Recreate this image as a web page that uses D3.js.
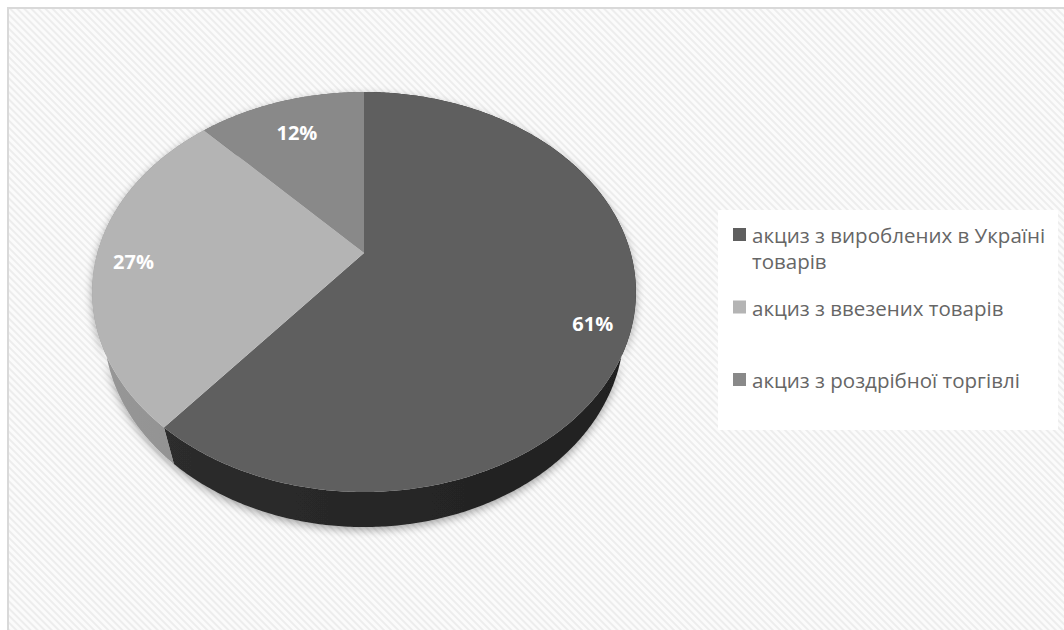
<!DOCTYPE html>
<html><head><meta charset="utf-8">
<script src="https://cdn.jsdelivr.net/npm/d3@7"></script>
<style>html,body{margin:0;padding:0;background:#fff;overflow:hidden}</style>
</head><body><svg id="c" width="1064" height="630"></svg>
<script>
// ---- data ----
const categories = ["акциз з вироблених в Україні товарів", "акциз з ввезених товарів", "акциз з роздрібної торгівлі"];
const values = [61, 27, 12];
const valueLabels = ["61%", "27%", "12%"];

// ---- style ----
const topColors = ["#5f5f5f", "#b4b4b4", "#898989"];
const wallLeft  = ["#2f2f2f", "#979797", "#707070"];
const wallRight = ["#1f1f1f", "#7e7e7e", "#606060"];

const svg = d3.select("#c");
const defs = svg.append("defs");

// hatched background
const pat = defs.append("pattern").attr("id","hatch").attr("patternUnits","userSpaceOnUse")
  .attr("width",5).attr("height",5).attr("patternTransform","rotate(-45)");
pat.append("rect").attr("width",5).attr("height",5).attr("fill","#fbfbfb");
pat.append("rect").attr("width",2).attr("height",5).attr("fill","#ededed");

svg.append("rect").attr("x",8).attr("y",8).attr("width",1070).attr("height",640)
  .attr("fill","url(#hatch)").attr("stroke","#d9d9d9").attr("stroke-width",2);

// shadow filter
const f = defs.append("filter").attr("id","sh").attr("x","-20%").attr("y","-20%").attr("width","140%").attr("height","160%");
f.append("feDropShadow").attr("dx",0).attr("dy",3).attr("stdDeviation",4).attr("flood-color","#000").attr("flood-opacity",0.35);

// perspective projection of the 3D pie
const cx = 364, cy = 253;
const K = 946.7, D = 3.55, sA = 0.7215, cA = 0.692, thick = 0.219;
function proj(theta, r, h) {
  const X = r*Math.sin(theta), G = r*Math.cos(theta);
  const depth = D + G*cA - h*sA;
  return [cx + K*X/depth, cy - K*(G*sA + h*cA)/depth];
}
const xExt = [92, 636];

const pie = d3.pie().sort(null).value(d => d);
const arcs = pie(values);

function arcPts(a0, a1, h) {
  const n = Math.max(4, Math.ceil(Math.abs(a1-a0)/0.01));
  return d3.range(n+1).map(i => proj(a0 + (a1-a0)*i/n, 1, h));
}
const line = d3.line();

// wall gradients
arcs.forEach((a,i) => {
  const g = defs.append("linearGradient").attr("id","wg"+i).attr("gradientUnits","userSpaceOnUse")
    .attr("x1",xExt[0]).attr("x2",xExt[1]).attr("y1",0).attr("y2",0);
  g.append("stop").attr("offset",0).attr("stop-color",wallLeft[i]);
  g.append("stop").attr("offset",1).attr("stop-color",wallRight[i]);
});

const pieG = svg.append("g");
const walls = pieG.append("g").attr("filter","url(#sh)");
arcs.forEach((a,i) => {
  const pts = arcPts(a.startAngle, a.endAngle, 0).concat(arcPts(a.endAngle, a.startAngle, -thick));
  walls.append("path").attr("d", line(pts)+"Z").attr("fill","url(#wg"+i+")");
});
arcs.forEach((a,i) => {
  const pts = [[cx,cy]].concat(arcPts(a.startAngle, a.endAngle, 0));
  pieG.append("path").attr("d", line(pts)+"Z").attr("fill",topColors[i]);
});

// data labels
const labelR = [0.86, 0.86, 0.78];
const labelDy = [12, 4, 2];
arcs.forEach((a,i) => {
  const m = (a.startAngle + a.endAngle)/2;
  const p = proj(m, labelR[i], 0);
  svg.append("text").attr("x",p[0]).attr("y",p[1]+labelDy[i]).attr("dy","0.35em")
    .attr("text-anchor","middle").attr("font-family","'Open Sans', sans-serif")
    .attr("font-weight","bold").attr("font-size",20).attr("fill","#fff").text(valueLabels[i]);
});

// legend
const leg = svg.append("g");
leg.append("rect").attr("x",718).attr("y",210).attr("width",340).attr("height",220).attr("fill","#fff");
const legY = d3.scalePoint().domain(d3.range(categories.length)).range([243, 388]);
categories.forEach((c,i) => {
  const y = legY(i);
  leg.append("rect").attr("x",733).attr("y",y-15).attr("width",13).attr("height",13).attr("fill",topColors[i]);
  const t = leg.append("text").attr("x",752).attr("y",y).attr("font-family","'Open Sans', sans-serif")
    .attr("font-size",20.5).attr("fill","#666");
  // wrap
  const words = c.split(" ");
  let lineWords = [];
  let ts = t.append("tspan").attr("x",752).attr("dy",0);
  words.forEach(w => {
    lineWords.push(w);
    ts.text(lineWords.join(" "));
    if (ts.node().getComputedTextLength() > 300 && lineWords.length > 1) {
      lineWords.pop();
      ts.text(lineWords.join(" "));
      lineWords = [w];
      ts = t.append("tspan").attr("x",752).attr("dy",26).text(w);
    }
  });
});
</script>
</body></html>
